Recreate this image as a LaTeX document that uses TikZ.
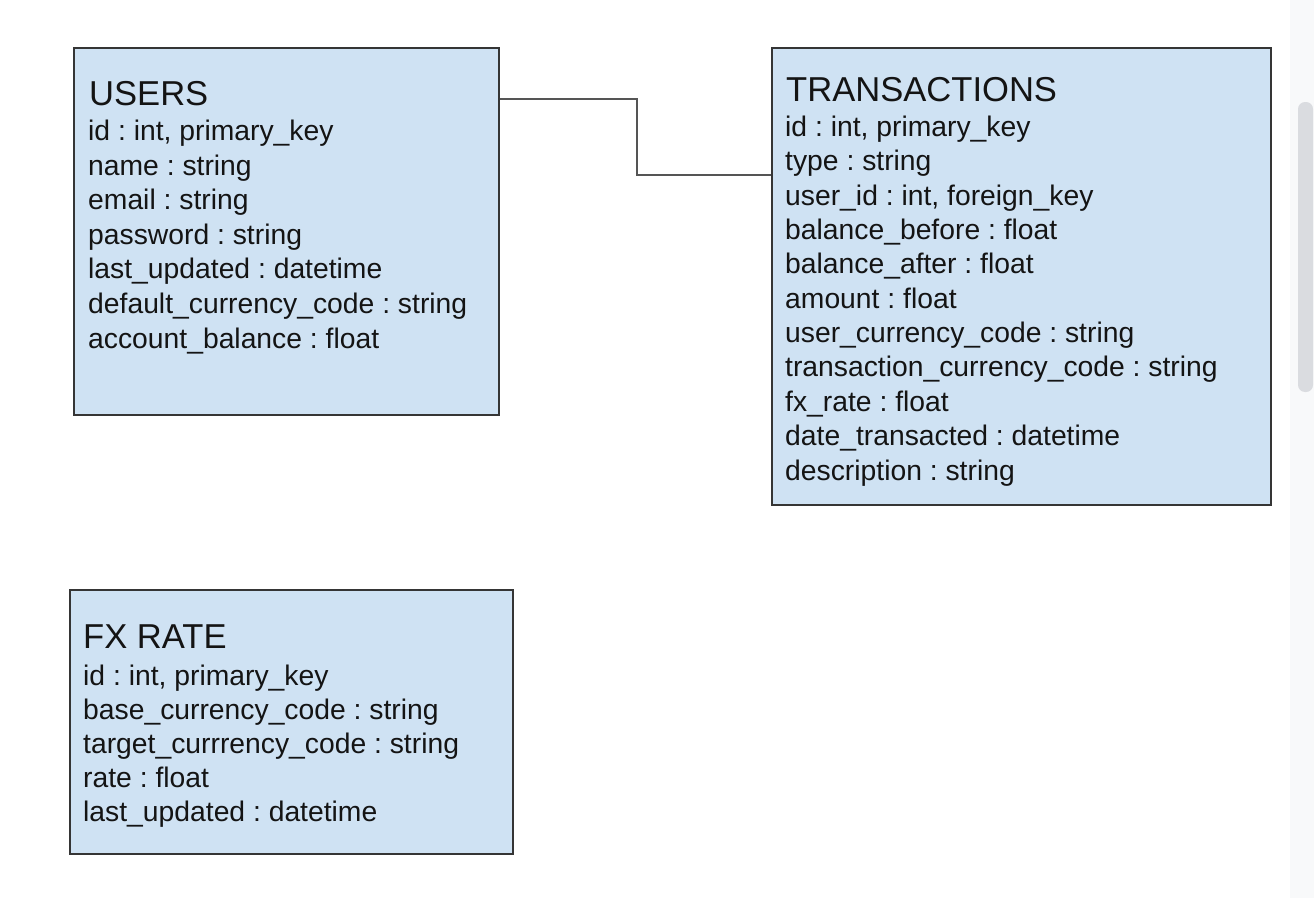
\documentclass[tikz,border=0pt]{standalone}
\usepackage{fontspec}
\setmainfont{Liberation Sans}
\definecolor{boxfill}{HTML}{CFE2F3}
\definecolor{boxline}{HTML}{353535}
\definecolor{wireline}{HTML}{555555}
\definecolor{txt}{HTML}{141414}
\definecolor{sbtrack}{HTML}{F8F9FA}
\definecolor{sbthumb}{HTML}{DADCE0}
\begin{document}
\frenchspacing
\begin{tikzpicture}[x=1bp,y=-1bp,
  table/.style={draw=boxline, line width=1.7bp, fill=boxfill, inner sep=0pt, anchor=north west},
  ttitle/.style={anchor=base west, inner sep=0pt, text=txt, font=\fontsize{34.7}{40}\selectfont},
  tfield/.style={anchor=base west, inner sep=0pt, text=txt, font=\fontsize{28.4}{34}\selectfont},
  wire/.style={draw=wireline, line width=1.4bp}]
\useasboundingbox[fill=white] (0,0) rectangle (1314,898);
% scrollbar
\fill[sbtrack] (1290,0) rectangle (1314,898);
\fill[sbthumb, rounded corners=7bp] (1298,102) rectangle (1313,392);
% tables
\node[table, minimum width=425bp, minimum height=367bp] (users) at (73,47) {};
\node[table, minimum width=499bp, minimum height=457bp] (trans) at (771,47) {};
\node[table, minimum width=443bp, minimum height=264bp] (fx) at (69,589) {};
% USERS
\node[ttitle] (usersT) at (89,105) {USERS};
\foreach \t [count=\i] in {{id : int, primary\_key},{name : string},{email : string},{password : string},{last\_updated : datetime},{default\_currency\_code : string},{account\_balance : float}}
  \node[tfield] (usersF\i) at (88,{140.5+34.6*(\i-1)}) {\t};
% TRANSACTIONS
\node[ttitle] (transT) at (786,101.5) {TRANSACTIONS};
\foreach \t [count=\i] in {{id : int, primary\_key},{type : string},{user\_id : int, foreign\_key},{balance\_before : float},{balance\_after : float},{amount : float},{user\_currency\_code : string},{transaction\_currency\_code : string},{fx\_rate : float},{date\_transacted : datetime},{description : string}}
  \node[tfield] (transF\i) at (785,{136.5+34.35*(\i-1)}) {\t};
% FX RATE
\node[ttitle] (fxT) at (83,648.5) {FX RATE};
\foreach \t [count=\i] in {{id : int, primary\_key},{base\_currency\_code : string},{target\_currrency\_code : string},{rate : float},{last\_updated : datetime}}
  \node[tfield] (fxF\i) at (83,{685+34*(\i-1)}) {\t};
% connector
\coordinate (j1) at (637,99);
\coordinate (j2) at (637,175);
\draw[wire] (users.east |- j1) -- (j1) -- (j2) -- (trans.west |- j2);
\end{tikzpicture}
\end{document}
